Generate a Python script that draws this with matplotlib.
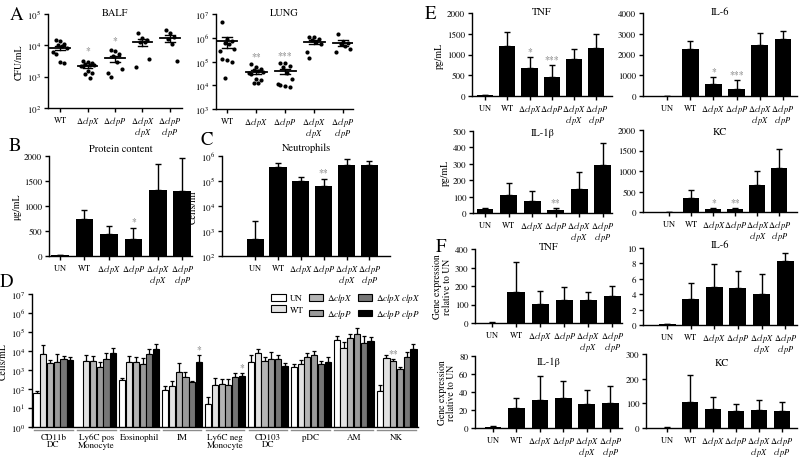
#!/usr/bin/env python3
"""Multi-panel figure: bacterial load, lung inflammation and cytokines."""
import numpy as np
import matplotlib
matplotlib.use("Agg")
import matplotlib.pyplot as plt
from matplotlib.patches import Patch
from matplotlib.ticker import LogLocator, NullLocator, MultipleLocator

plt.rcParams['font.family'] = ['STIXGeneral', 'DejaVu Sans']
plt.rcParams['mathtext.fontset'] = 'stix'
plt.rcParams['axes.linewidth'] = 1.0

W, H = 800, 460

# ---- labels ----
L_UN = r"$\mathrm{UN}$"
L_WT = r"$\mathrm{WT}$"
L_X = r"$\Delta\mathit{clpX}$"
L_P = r"$\Delta\mathit{clpP}$"
L_XX = L_X + "\n" + r"$\mathit{clpX}$"
L_PP = L_P + "\n" + r"$\mathit{clpP}$"
strains5 = [L_WT, L_X, L_P, L_XX, L_PP]
strains6 = [L_UN] + strains5

# ---- panel A: individual CFU counts ----
balf_pts = [
    [1.5e4, 1.34e4, 1.1e4, 1.02e4, 9.3e3, 8e3, 6e3, 5.3e3, 2.9e3, 2.7e3],
    [3.2e3, 2.9e3, 2.7e3, 2.5e3, 2.4e3, 2.35e3, 2.2e3, 2.2e3, 1.55e3, 1.3e3, 1.2e3, 9.3e2],
    [7.1e3, 6.4e3, 5.3e3, 4.7e3, 3e3, 1.75e3, 1.3e3, 9.5e2],
    [2.4e4, 1.7e4, 1.5e4, 1.3e4, 1.3e4, 3.7e3, 2.1e3],
    [3.1e4, 2.4e4, 1.8e4, 1.6e4, 1.1e4, 3.2e3],
]
balf_stars = ["", "*", "*", "", ""]
lung_pts = [
    [4.4e6, 8.8e5, 7.5e5, 6.3e5, 5.4e5, 3.3e5, 2.8e5, 1.25e5, 1.2e5, 9.8e4, 2.1e4],
    [8.2e4, 6.1e4, 5e4, 4.4e4, 3.8e4, 3.5e4, 3.2e4, 2.9e4, 1.8e4, 1.7e4, 1.2e4, 1.2e4],
    [9e4, 8.5e4, 6.6e4, 6e4, 3.2e4, 1.8e4, 1.1e4, 1e4, 9e3, 8.1e3],
    [1.1e6, 1.05e6, 8.8e5, 8e5, 6.8e5, 5.4e5, 2.4e5, 1.4e5],
    [1.5e6, 6.8e5, 6e5, 5.4e5, 4.6e5, 3.3e5, 2.4e5],
]
lung_stars = ["", "**", "***", "", ""]

# ---- panel B / C ----
protein_mean = [20, 750, 440, 350, 1320, 1310]
protein_top = [28, 920, 610, 570, 1850, 1960]
protein_stars = ["", "", "", "*", "", ""]
neut_mean = [490, 3.5e5, 1.0e5, 6.4e4, 4.4e5, 4.3e5]
neut_top = [2600, 5.4e5, 1.5e5, 1.2e5, 7.4e5, 6.3e5]
neut_stars = ["", "", "", "**", "", ""]

# ---- panel D: cell populations ----
cell_types = ["CD11b\nDC", "Ly6C pos\nMonocyte", "Eosinophil", "IM",
              "Ly6C neg\nMonocyte", "CD103\nDC", "pDC", "AM", "NK"]
legend_labels = ["UN", "WT", L_X, L_P, L_X + " " + r"$\mathit{clpX}$",
                 L_P + " " + r"$\mathit{clpP}$"]
cells_mean = np.array([
    [59, 6.9e3, 2.2e3, 2.5e3, 3.8e3, 3.3e3],
    [np.nan, 3.1e3, 3.1e3, 1.5e3, 3.8e3, 8e3],
    [300, 2.8e3, 2.8e3, 2.1e3, 6.9e3, 1.3e4],
    [90, 150, 750, 410, 220, 2.5e3],
    [16, 160, 180, 160, 410, 500],
    [2.8e3, 7.6e3, 2.9e3, 3.8e3, 3.8e3, 1.7e3],
    [1.4e3, 2.1e3, 5e3, 6.5e3, 2.1e3, 2.5e3],
    [4e4, 1.4e4, 4.8e4, 7.9e4, 2.6e4, 3.5e4],
    [76, 4.1e3, 2.9e3, 1.1e3, 4.8e3, 1.3e4],
])
cells_top = np.array([
    [80, 2.1e4, 3.3e3, 6.9e3, 5.7e3, 5e3],
    [np.nan, 6.5e3, 5.7e3, 2.5e3, 7.5e3, 1.4e4],
    [380, 5.7e3, 4.6e3, 4.2e3, 1.3e4, 2.3e4],
    [140, 280, 2.2e3, 750, 280, 6.5e3],
    [37, 360, 340, 340, 700, 700],
    [6.2e3, 1.3e4, 4.6e3, 8.6e3, 6.5e3, 2.2e3],
    [2.1e3, 3.3e3, 7.5e3, 1e4, 3.1e3, 4.6e3],
    [6.4e4, 2.9e4, 7.9e4, 1.6e5, 5.9e4, 5.7e4],
    [170, 6.2e3, 3.8e3, 1.5e3, 8.9e3, 2.3e4],
])
cells_stars = {(3, 5): "*", (4, 5): "*", (8, 2): "**"}
cell_colors = ["white", "#e2e2e2", "#b4b4b4", "#9a9a9a", "#767676", "black"]

# ---- panel E: cytokine protein ----
tnf_mean = [20, 1200, 670, 460, 890, 1160]
tnf_top = [30, 1550, 940, 740, 1130, 1500]
tnf_stars = ["", "", "*", "***", "", ""]
il6_mean = [5, 2270, 580, 340, 2460, 2740]
il6_top = [5, 2650, 900, 780, 3020, 3130]
il6_stars = ["", "", "*", "***", "", ""]
il1b_mean = [25, 110, 75, 20, 148, 292]
il1b_top = [30, 180, 137, 30, 250, 425]
il1b_stars = ["", "", "", "**", "", ""]
kc_mean = [3, 345, 85, 75, 660, 1085]
kc_top = [3, 545, 100, 100, 990, 1540]
kc_stars = ["", "", "*", "**", "", ""]

# ---- panel F: gene expression ----
tnf_g_mean = [2, 170, 105, 127, 127, 148]
tnf_g_top = [3, 330, 172, 192, 170, 202]
il6_g_mean = [0.1, 3.35, 5.0, 4.75, 4.05, 8.35]
il6_g_top = [0.12, 5.5, 7.95, 7.05, 6.6, 9.4]
il1b_g_mean = [1.5, 22, 31.5, 33, 26.5, 28]
il1b_g_top = [2, 33.5, 57.5, 52, 42, 47]
kc_g_mean = [2, 105, 77, 70, 73, 67]
kc_g_top = [3, 215, 125, 99, 115, 107]

STAR_C = "#7a7a7a"
TICK_FS = 6.5


def add_ax(x0, y0, x1, y1):
    """Axes from pixel box (top-left origin)."""
    ax = fig.add_axes([x0 / W, 1 - y1 / H, (x1 - x0) / W, (y1 - y0) / H])
    for s in ("top", "right"):
        ax.spines[s].set_visible(False)
    ax.tick_params(labelsize=TICK_FS, length=3, width=1, pad=2)
    return ax


def title_at(ax, text, ypx, size=7.5):
    pos = ax.get_position()
    fig.text(pos.x0 + pos.width / 2, 1 - ypx / H, text, ha="center",
             va="center", fontsize=size)


def log_axis(ax, lo, hi):
    ax.set_yscale("log")
    ax.set_ylim(lo, hi)
    ax.yaxis.set_major_locator(LogLocator(base=10, numticks=12))
    ax.yaxis.set_minor_locator(NullLocator())


def set_strain_ticks(ax, x, labels):
    ax.set_xticks(x, labels, linespacing=0.7)
    ax.tick_params(axis="x", pad=1.5, labelsize=6)


def bar_panel(ax, labels, mean, top, xlim, stars=None, log=False, width=0.72):
    x = np.arange(len(mean))
    mean = np.array(mean, float)
    top = np.array(top, float)
    ax.bar(x, mean, width=width, color="black", zorder=2)
    ax.errorbar(x, mean, yerr=[np.zeros_like(mean), top - mean], fmt="none",
                ecolor="black", elinewidth=1, capsize=2.5, capthick=1,
                zorder=1)
    ax.set_xlim(*xlim)
    set_strain_ticks(ax, x, labels)
    if stars:
        lo, hi = ax.get_ylim()
        for xi, t, s in zip(x, top, stars):
            if not s:
                continue
            y = t * 1.25 if log else t + 0.02 * (hi - lo)
            ax.text(xi, y, s, ha="center", va="bottom", fontsize=7,
                    color=STAR_C)


def dot_panel(ax, pts, stars, xlim):
    for i, vals in enumerate(pts):
        vals = np.array(vals)
        offs = np.tile([-0.16, 0.0, 0.16, -0.08, 0.08, 0.24, -0.24], 3)[:len(vals)]
        ax.scatter(i + offs, vals, s=9, color="black", zorder=3, linewidths=0)
        m = vals.mean()
        sem = vals.std(ddof=1) / np.sqrt(len(vals))
        ax.plot([i - 0.36, i + 0.36], [m, m], color="black", lw=1.3, zorder=4)
        ax.plot([i, i], [m - sem, m + sem], color="black", lw=1, zorder=4)
        for v in (m - sem, m + sem):
            ax.plot([i - 0.18, i + 0.18], [v, v], color="black", lw=1, zorder=4)
        if stars[i]:
            ax.text(i, vals.max() * 2.2, stars[i], ha="center", va="center",
                    fontsize=7, color=STAR_C)
    ax.set_xlim(*xlim)
    set_strain_ticks(ax, range(len(pts)), strains5)


fig = plt.figure(figsize=(W / 100, H / 100), dpi=100)

# Panel A
ax = add_ax(48, 15, 182, 109)
log_axis(ax, 1e2, 1e5)
dot_panel(ax, balf_pts, balf_stars, (-0.44, 4.44))
ax.set_ylabel("CFU/mL", fontsize=7, labelpad=2)
title_at(ax, "BALF", 13)

ax = add_ax(216, 15, 353, 110)
log_axis(ax, 1e3, 1e7)
dot_panel(ax, lung_pts, lung_stars, (-0.38, 4.34))
title_at(ax, "LUNG", 13)

# Panel B
ax = add_ax(49, 157, 192, 257)
ax.set_ylim(0, 2000)
ax.yaxis.set_major_locator(MultipleLocator(500))
bar_panel(ax, strains6, protein_mean, protein_top, (-0.45, 5.4),
          protein_stars)
ax.set_ylabel("μg/mL", fontsize=7, labelpad=2)
title_at(ax, "Protein content", 149)

# Panel C
ax = add_ax(222, 157, 390, 257)
log_axis(ax, 1e2, 1e6)
bar_panel(ax, strains6, neut_mean, neut_top, (-1.45, 5.9), neut_stars,
          log=True, width=0.75)
ax.set_ylabel("Cells/ml", fontsize=7, labelpad=2)
title_at(ax, "Neutrophils", 148)

# Panel D
ax = add_ax(32, 295, 418, 428)
log_axis(ax, 1, 1e7)
step, bw = 0.158, 0.145
for j in range(6):
    xs = np.arange(len(cell_types)) + (j - 2.5) * step
    m = cells_mean[:, j]
    t = cells_top[:, j]
    ax.bar(xs, m, width=bw, color=cell_colors[j], edgecolor="black",
           linewidth=0.8, zorder=2)
    ax.errorbar(xs, m, yerr=[np.zeros_like(m), t - m], fmt="none",
                ecolor="black", elinewidth=0.9, capsize=1.5, capthick=0.9,
                zorder=1)
for (g, j), s in cells_stars.items():
    ax.text(g + (j - 2.5) * step, cells_top[g, j] * 1.2, s, ha="center",
            va="bottom", fontsize=7, color=STAR_C)
ax.set_xlim(-0.5, len(cell_types) - 0.5)
ax.set_xticks(range(len(cell_types)), cell_types, linespacing=0.95)
ax.tick_params(axis="x", length=0, pad=4)
for g in range(len(cell_types)):
    ax.plot([g - 0.45, g + 0.45], [-0.02, -0.02], color="#8c8c8c", lw=1,
            transform=ax.get_xaxis_transform(), clip_on=False)
ax.set_ylabel("Cells/mL", fontsize=7, labelpad=2)
handles = [Patch(facecolor=c, edgecolor="black", linewidth=0.8)
           for c in cell_colors]
fig.legend(handles, legend_labels,
           ncol=3, loc="upper left", bbox_to_anchor=(266 / W, 1 - 287 / H),
           frameon=False, fontsize=6.5, handlelength=1.6, handleheight=0.8,
           columnspacing=0.6, handletextpad=0.4, labelspacing=0.3,
           borderpad=0.1)

# Panel E
ax = add_ax(472, 14, 612, 97)
ax.set_ylim(0, 2000)
ax.yaxis.set_major_locator(MultipleLocator(500))
bar_panel(ax, strains6, tnf_mean, tnf_top, (-0.58, 5.7), tnf_stars)
ax.set_ylabel("pg/mL", fontsize=7, labelpad=2)
title_at(ax, "TNF", 12)

ax = add_ax(643, 14, 797, 97)
ax.set_ylim(0, 4000)
ax.yaxis.set_major_locator(MultipleLocator(1000))
bar_panel(ax, strains6, il6_mean, il6_top, (-1.03, 5.6), il6_stars)
title_at(ax, "IL-6", 12)

ax = add_ax(473, 132, 612, 214)
ax.set_ylim(0, 500)
ax.yaxis.set_major_locator(MultipleLocator(100))
bar_panel(ax, strains6, il1b_mean, il1b_top, (-0.51, 5.4), il1b_stars)
ax.set_ylabel("pg/mL", fontsize=7, labelpad=2)
title_at(ax, "IL-1β", 133)

ax = add_ax(643, 131, 797, 213)
ax.set_ylim(0, 2000)
ax.yaxis.set_major_locator(MultipleLocator(500))
bar_panel(ax, strains6, kc_mean, kc_top, (-1.2, 5.8), kc_stars)
title_at(ax, "KC", 132)

# Panel F
gene_label = "Gene expression\nrelative to UN"
ax = add_ax(475, 250, 622, 324)
ax.set_ylim(0, 400)
ax.yaxis.set_major_locator(MultipleLocator(100))
bar_panel(ax, strains6, tnf_g_mean, tnf_g_top, (-0.71, 5.4))
ax.set_ylabel(gene_label, fontsize=7, labelpad=2, linespacing=1.0)
title_at(ax, "TNF", 247)

ax = add_ax(643, 249, 797, 326)
ax.set_ylim(0, 10)
ax.yaxis.set_major_locator(MultipleLocator(2))
bar_panel(ax, strains6, il6_g_mean, il6_g_top, (-1.02, 5.5))
title_at(ax, "IL-6", 245)

ax = add_ax(475, 357, 622, 429)
ax.set_ylim(0, 80)
ax.yaxis.set_major_locator(MultipleLocator(20))
bar_panel(ax, strains6, il1b_g_mean, il1b_g_top, (-0.77, 5.5))
ax.set_ylabel(gene_label, fontsize=7, labelpad=2, linespacing=1.0)
title_at(ax, "IL-1β", 362)

ax = add_ax(646, 355, 797, 429)
ax.set_ylim(0, 300)
ax.yaxis.set_major_locator(MultipleLocator(100))
bar_panel(ax, strains6, kc_g_mean, kc_g_top, (-0.91, 5.65))
title_at(ax, "KC", 363)

# panel letters
for letter, xp, yp in [("A", 16, 15), ("B", 15, 146), ("C", 207, 140),
                       ("D", 6, 282), ("E", 431, 14), ("F", 441, 247)]:
    fig.text(xp / W, 1 - yp / H, letter, fontsize=13.5, ha="center",
             va="center")

fig.savefig("out.png", dpi=100)
